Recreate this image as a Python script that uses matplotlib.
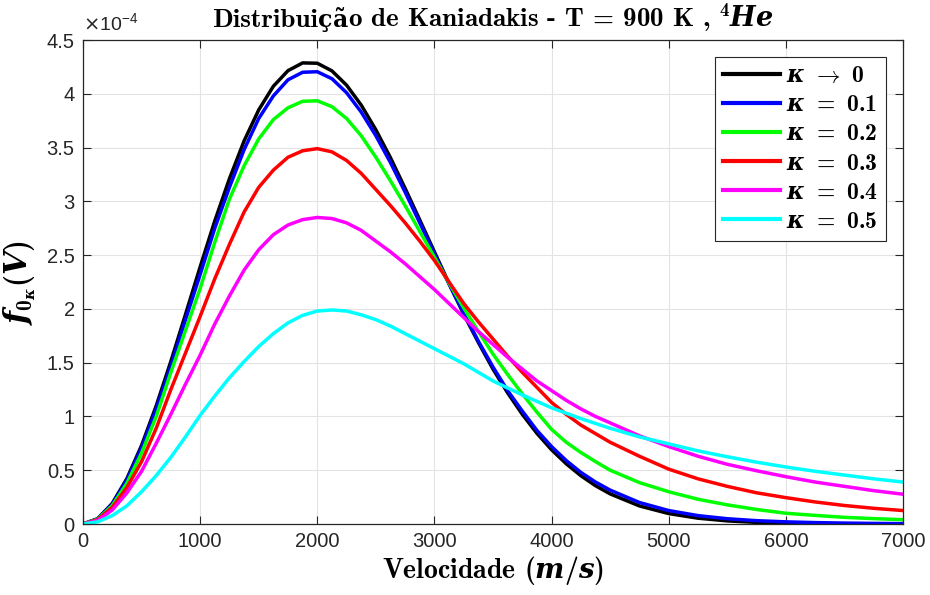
import numpy as np
import matplotlib
matplotlib.use("Agg")
import matplotlib.pyplot as plt
from matplotlib.ticker import FuncFormatter

# velocity (m/s); finer steps where the curves bend, coarser in the tail
vel = [0, 125, 250, 375, 500, 625, 750, 875, 1000, 1125, 1250, 1375, 1500,
       1625, 1750, 1875, 2000, 2125, 2250, 2375, 2500, 2625, 2750, 2875, 3000,
       3125, 3250, 3375, 3500, 3625, 3750, 3875, 4000, 4125, 4250, 4375, 4500,
       4750, 5000, 5250, 5500, 5750, 6000, 6250, 6500, 6750, 7000]

# f(V), units of 1e-4
f_k0 = [0, 0.049, 0.192, 0.423, 0.731, 1.099, 1.512, 1.949, 2.39, 2.818, 3.21, 3.561, 3.85,
        4.070, 4.215, 4.287, 4.284, 4.213, 4.08, 3.895, 3.665, 3.405, 3.12, 2.827, 2.53,
        2.236, 1.95, 1.688, 1.44, 1.219, 1.02, 0.843, 0.69, 0.560, 0.449, 0.356, 0.280,
        0.168, 0.097, 0.054, 0.029, 0.015, 0.0074, 0.0035, 0.0016, 0.0007, 0.0003]
f_k1 = [0, 0.047, 0.186, 0.41, 0.71, 1.07, 1.47, 1.90, 2.32, 2.75, 3.13, 3.48, 3.77,
        3.98, 4.13, 4.20, 4.205, 4.14, 4.01, 3.83, 3.61, 3.36, 3.085, 2.80, 2.51,
        2.23, 1.96, 1.70, 1.46, 1.24, 1.05, 0.87, 0.72, 0.59, 0.48, 0.39, 0.315,
        0.20, 0.125, 0.078, 0.049, 0.031, 0.020, 0.013, 0.0085, 0.0056, 0.0038]
f_k2 = [0, 0.044, 0.172, 0.38, 0.66, 1.00, 1.41, 1.80, 2.19, 2.62, 3.02, 3.33, 3.58,
        3.76, 3.87, 3.93, 3.935, 3.88, 3.77, 3.61, 3.41, 3.19, 2.96, 2.72, 2.48,
        2.24, 2.01, 1.79, 1.58, 1.39, 1.21, 1.04, 0.88, 0.76, 0.665, 0.58, 0.50,
        0.385, 0.30, 0.23, 0.178, 0.135, 0.10, 0.08, 0.062, 0.05, 0.04]
f_k3 = [0, 0.04, 0.155, 0.34, 0.58, 0.89, 1.25, 1.59, 1.93, 2.28, 2.60, 2.90, 3.13,
        3.29, 3.41, 3.47, 3.49, 3.46, 3.38, 3.26, 3.11, 2.96, 2.80, 2.63, 2.45,
        2.25, 2.05, 1.88, 1.72, 1.56, 1.41, 1.27, 1.13, 1.02, 0.92, 0.84, 0.76,
        0.63, 0.51, 0.42, 0.35, 0.29, 0.245, 0.205, 0.172, 0.146, 0.125]
f_k4 = [0, 0.033, 0.13, 0.29, 0.49, 0.75, 1.02, 1.30, 1.57, 1.86, 2.12, 2.36, 2.55,
        2.69, 2.78, 2.83, 2.85, 2.84, 2.80, 2.73, 2.63, 2.53, 2.42, 2.30, 2.18,
        2.05, 1.92, 1.79, 1.67, 1.55, 1.44, 1.33, 1.24, 1.15, 1.07, 1.00, 0.94,
        0.82, 0.72, 0.63, 0.555, 0.495, 0.44, 0.39, 0.35, 0.31, 0.277]
f_k5 = [0, 0.02, 0.078, 0.17, 0.30, 0.45, 0.62, 0.81, 1.01, 1.19, 1.36, 1.51, 1.65,
        1.77, 1.87, 1.94, 1.98, 1.99, 1.98, 1.945, 1.90, 1.84, 1.77, 1.70, 1.63,
        1.56, 1.49, 1.41, 1.33, 1.265, 1.20, 1.14, 1.08, 1.03, 0.98, 0.935, 0.89,
        0.81, 0.745, 0.68, 0.625, 0.575, 0.53, 0.49, 0.455, 0.42, 0.39]

series = [f_k0, f_k1, f_k2, f_k3, f_k4, f_k5]
labels = [r"$\kappa \;\rightarrow\; 0$", r"$\kappa \;=\; 0.1$", r"$\kappa \;=\; 0.2$",
          r"$\kappa \;=\; 0.3$", r"$\kappa \;=\; 0.4$", r"$\kappa \;=\; 0.5$"]
colors = ["#000000", "#0000ff", "#00ff00", "#ff0000", "#ff00ff", "#00ffff"]

plt.rcParams["font.family"] = ["Liberation Sans", "DejaVu Sans"]
# bold "latex-like" math: bold italic letters, bold CM digits
plt.rcParams["mathtext.fontset"] = "custom"
plt.rcParams["mathtext.rm"] = "cmb10"
plt.rcParams["mathtext.bf"] = "cmb10"
plt.rcParams["mathtext.it"] = "DejaVu Serif:italic:bold"
plt.rcParams["mathtext.fallback"] = "cm"
axc = "#262626"

W, H = 930, 595
fig = plt.figure(figsize=(W / 100, H / 100), dpi=100)
ax = fig.add_axes([83 / W, 71 / H, 820 / W, 484 / H])

for ys, lab, c in zip(series, labels, colors):
    ax.plot(vel, np.array(ys) * 1e-4, color=c, lw=2.5, label=lab)

ax.set_xlim(0, 7000)
ax.set_ylim(0, 4.5e-4)
ax.set_xticks(np.arange(0, 7001, 1000))
ax.set_yticks(np.arange(0, 4.51, 0.5) * 1e-4)
ax.yaxis.set_major_formatter(FuncFormatter(lambda y, p: f"{y * 1e4:g}"))
ax.grid(True, color="#e3e3e3", lw=0.8)
ax.set_axisbelow(True)
ax.tick_params(direction="in", length=6, width=0.8, colors=axc, labelsize=14.5,
               top=True, right=True, pad=6)
for s in ax.spines.values():
    s.set_color(axc)
    s.set_linewidth(0.9)

ax.text(0.0, 1.012, r"$\times\mathregular{10^{-4}}$", transform=ax.transAxes,
        fontsize=14, color=axc, ha="left", va="bottom", math_fontfamily="dejavusans")

# title in pieces: CM bold has no ç / ã
pieces = [("Distribui", "cmb10"), ("ç", "DejaVu Serif"), ("ã", "DejaVu Serif"),
          (r"o de Kaniadakis - T = 900 K , $^4He$", "cmb10")]
ttl = []
for s, fam in pieces:
    ttl.append(fig.text(0, 1 - 27 / H, s, fontfamily=fam, fontweight="bold",
                        fontsize=19.5 if fam == "cmb10" else 17, va="baseline"))
rend = fig.canvas.get_renderer()
widths = [t.get_window_extent(rend).width for t in ttl]
x0 = 493 - sum(widths) / 2
for t, w in zip(ttl, widths):
    t.set_x(x0 / W)
    x0 += w

ax.set_xlabel(r"Velocidade $(m/s)$", fontfamily="cmb10", fontsize=20,
              color="black", labelpad=2)
ax.set_ylabel(r"$f_{0_\kappa}(V)$", fontsize=22, color="black", labelpad=6)

leg = ax.legend(loc="upper right", fontsize=17, frameon=True, fancybox=False,
                framealpha=1, edgecolor=axc, borderaxespad=0.72, handlelength=2.4,
                labelspacing=0.3, borderpad=0.35, handletextpad=0.25)
leg.get_frame().set_linewidth(0.8)
for h in leg.get_lines():
    h.set_linewidth(3.0)

fig.savefig("out.png", dpi=100)
